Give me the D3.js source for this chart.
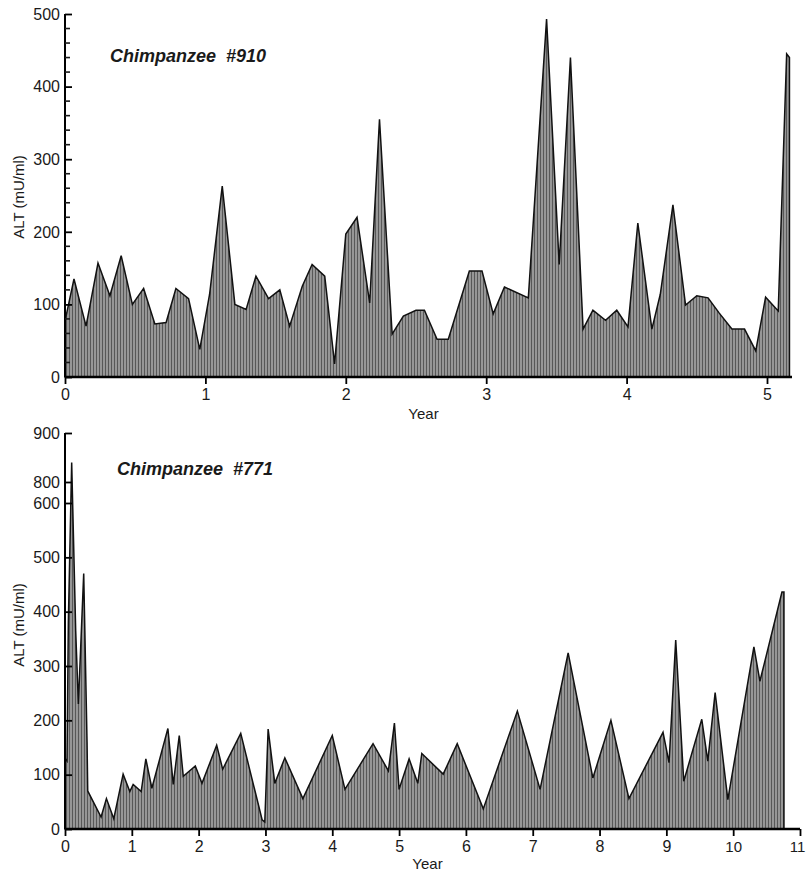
<!DOCTYPE html>
<html>
<head>
<meta charset="utf-8">
<script src="https://cdn.jsdelivr.net/npm/d3@7"></script>
<style>
  body { margin: 0; background: #fff; }
  text { font-family: "Liberation Sans", Arial, sans-serif; fill: #1a1a1a; }
</style>
</head>
<body>
<div id="chart"></div>
<script>
// Chimpanzee #910
const yearsA = [0, 0.064, 0.15, 0.235, 0.32, 0.40, 0.48, 0.56, 0.64, 0.72, 0.79, 0.88, 0.96, 1.03, 1.12,
  1.21, 1.29, 1.36, 1.45, 1.53, 1.60, 1.69, 1.76, 1.85, 1.92, 2.0, 2.08, 2.17, 2.24, 2.33, 2.41, 2.50,
  2.56, 2.65, 2.73, 2.88, 2.97, 3.05, 3.13, 3.30, 3.43, 3.52, 3.60, 3.69, 3.76, 3.85, 3.93, 4.01, 4.08,
  4.18, 4.24, 4.33, 4.42, 4.50, 4.58, 4.66, 4.75, 4.84, 4.92, 4.99, 5.08, 5.14, 5.16]
const altA = [77, 135, 70, 157, 112, 167, 100, 122, 73, 75, 122, 108, 38, 114, 263,
  100, 93, 139, 108, 120, 70, 125, 155, 139, 18, 197, 220, 102, 355, 59, 84, 92,
  92, 52, 52, 146, 146, 87, 124, 109, 493, 155, 440, 66, 92, 78, 92, 69, 212,
  66, 114, 237, 99, 112, 109, 88, 66, 66, 36, 110, 91, 445, 440]

// Chimpanzee #771
const yearsB = [0, 0.03, 0.05, 0.1, 0.16, 0.2, 0.28, 0.33, 0.34, 0.54, 0.62, 0.73, 0.87, 0.97, 1.02,
  1.14, 1.21, 1.3, 1.54, 1.62, 1.71, 1.77, 1.95, 2.05, 2.27, 2.36, 2.63, 2.95, 2.99, 3.04, 3.14,
  3.29, 3.56, 4.0, 4.19, 4.61, 4.84, 4.93, 5.0, 5.15, 5.28, 5.34, 5.66, 5.87, 6.26, 6.77, 7.11,
  7.53, 7.90, 8.17, 8.44, 8.95, 9.04, 9.14, 9.26, 9.53, 9.62, 9.73, 9.92, 10.31, 10.40, 10.73, 10.76]
const altB = [130, 125, 380, 840, 365, 230, 470, 160, 70, 22, 56, 19, 101, 69, 82,
  69, 129, 75, 185, 82, 172, 97, 116, 84, 154, 110, 176, 17, 13, 184, 84,
  131, 56, 172, 73, 157, 107, 195, 73, 129, 84, 139, 101, 157, 37, 217, 73,
  324, 94, 200, 56, 178, 122, 348, 88, 202, 125, 251, 54, 335, 272, 436, 436]

const ticksA = [0, 100, 200, 300, 400, 500]
const minorA = d3.range(0, 501, 20)
const ticksB = [0, 100, 200, 300, 400, 500, 600, 800, 900]
const xTicksA = [0, 1, 2, 3, 4, 5]
const xTicksB = d3.range(0, 12)

const width = 807, height = 873

const svg = d3.select('#chart').append('svg')
  .attr('width', width)
  .attr('height', height)

// vertical stripe texture like the print
const pat = svg.append('defs').append('pattern')
  .attr('id', 'stripes')
  .attr('width', 3).attr('height', 10)
  .attr('patternUnits', 'userSpaceOnUse')
pat.append('rect').attr('width', 3).attr('height', 10).attr('fill', '#979797')
pat.append('rect').attr('width', 1).attr('height', 10).attr('fill', '#585858')

function panel({ years, alt, x, y, yTicks, minor, xTicks, title, titleY, yLabelY, yearY, xEnd }) {
  const g = svg.append('g')
  const data = years.map((d, i) => ({ t: d, v: alt[i] }))

  const area = d3.area()
    .x(d => x(d.t))
    .y0(y(0))
    .y1(d => y(d.v))

  g.append('path')
    .datum(data)
    .attr('fill', 'url(#stripes)')
    .attr('stroke', '#111')
    .attr('stroke-width', 1.5)
    .attr('stroke-linejoin', 'miter')
    .attr('d', area)

  // y axis
  const ya = g.append('g')
    .attr('transform', `translate(${x(0)},0)`)
    .call(d3.axisRight(y).tickValues(yTicks).tickSize(7).tickFormat(''))
  ya.select('.domain').attr('stroke-width', 2).attr('d', `M0,${y(0)}V${y(yTicks[yTicks.length - 1])}`)
  ya.selectAll('.tick line').attr('stroke-width', 1.8)

  if (minor) {
    g.append('g')
      .selectAll('line')
      .data(minor.filter(d => !yTicks.includes(d)))
      .join('line')
      .attr('x1', x(0)).attr('x2', x(0) + 5)
      .attr('y1', d => y(d)).attr('y2', d => y(d))
      .attr('stroke', '#1a1a1a').attr('stroke-width', 1.6)
  }

  g.append('g')
    .selectAll('text')
    .data(yTicks)
    .join('text')
    .attr('x', x(0) - 5)
    .attr('y', d => y(d))
    .attr('dy', '0.36em')
    .attr('text-anchor', 'end')
    .attr('font-size', 16)
    .text(d => d)

  // x axis
  const xa = g.append('g')
    .attr('transform', `translate(0,${y(0)})`)
    .call(d3.axisBottom(x).tickValues(xTicks).tickSize(7).tickPadding(5)
      .tickFormat(d3.format('d')).tickSizeOuter(0))
  xa.select('.domain').attr('stroke-width', 2.5).attr('d', `M${x(0)},0H${xEnd}`)
  xa.selectAll('.tick line').attr('stroke-width', 1.8)
  xa.selectAll('.tick text').attr('font-size', 16).attr('fill', '#1a1a1a')
    .style('font-family', '"Liberation Sans", Arial, sans-serif')
  // keep the last label inside the page
  xa.selectAll('.tick text').filter(d => d >= 10).attr('font-size', 15)
  xa.selectAll('.tick text').filter(d => d === 11).attr('dx', -3)

  g.append('text')
    .attr('x', (x(0) + xEnd) / 2 - 5)
    .attr('y', yearY)
    .attr('text-anchor', 'middle')
    .attr('font-size', 15)
    .text('Year')

  g.append('text')
    .attr('transform', `translate(24,${yLabelY}) rotate(-90)`)
    .attr('text-anchor', 'middle')
    .attr('font-size', 15)
    .text('ALT (mU/ml)')

  g.append('text')
    .attr('x', title[0])
    .attr('y', titleY)
    .attr('font-size', 18)
    .attr('font-weight', 'bold')
    .attr('font-style', 'italic')
    .style('white-space', 'pre')
    .text(title[1])
}

const xA = d3.scaleLinear().domain([0, 5]).range([65, 767])
const yA = d3.scaleLinear().domain([0, 500]).range([377, 14])

const xB = d3.scaleLinear().domain([0, 11]).range([65, 800])
const yB = d3.scaleLinear().domain([0, 600, 800, 900]).range([829, 503, 482, 433])

panel({ years: yearsA, alt: altA, x: xA, y: yA, yTicks: ticksA, minor: minorA, xTicks: xTicksA,
  title: [110, 'Chimpanzee  #910'], titleY: 62, yLabelY: 197, yearY: 419, xEnd: 792 })

panel({ years: yearsB, alt: altB, x: xB, y: yB, yTicks: ticksB, minor: null, xTicks: xTicksB,
  title: [117, 'Chimpanzee  #771'], titleY: 475, yLabelY: 625, yearY: 869, xEnd: 800 })
</script>
</body>
</html>
